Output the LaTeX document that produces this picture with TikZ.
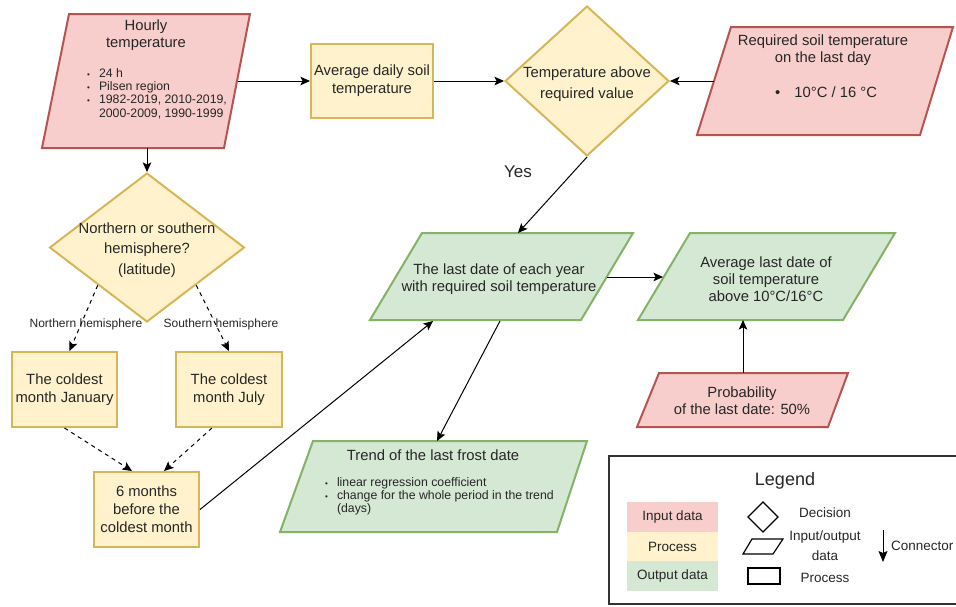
\documentclass[tikz,border=0pt]{standalone}
\usepackage{fontspec}
\setmainfont{Liberation Sans}
\usetikzlibrary{arrows.meta,shapes.geometric,calc}

\definecolor{inFill}{HTML}{F8CECC}
\definecolor{inLine}{HTML}{B85450}
\definecolor{prFill}{HTML}{FFF2CC}
\definecolor{prLine}{HTML}{D6B656}
\definecolor{outFill}{HTML}{D5E8D4}
\definecolor{outLine}{HTML}{82B366}
\definecolor{ink}{HTML}{262626}
\definecolor{frame}{HTML}{333333}

\begin{document}
\begin{tikzpicture}[x=1pt,y=-1pt,
  inshape/.style={fill=inFill,draw=inLine,line width=2pt},
  prshape/.style={fill=prFill,draw=prLine,line width=2pt},
  outshape/.style={fill=outFill,draw=outLine,line width=2pt},
  prbox/.style={prshape,rectangle,inner sep=0pt,text=ink,align=center,
    font=\fontsize{14.8}{18}\selectfont},
  decbox/.style={prshape,diamond,inner sep=0pt},
  txt/.style={text=ink,align=center,inner sep=0pt,font=\fontsize{14.8}{17.2}\selectfont},
  lst/.style={text=ink,align=left,inner sep=0pt,font=\fontsize{12.3}{13.4}\selectfont},
  lbl/.style={text=ink,inner sep=0pt,font=\fontsize{12}{14}\selectfont},
  legtxt/.style={text=ink,inner sep=0pt,align=center,font=\fontsize{13.5}{20}\selectfont},
  flow/.style={draw=black,line width=1pt,-{Stealth[length=9.5pt,width=8.5pt,inset=2pt]}},
  dflow/.style={flow,dash pattern=on 4pt off 4pt},
  legsym/.style={draw=black,line width=1.2pt,fill=white}]

\useasboundingbox (0,0) rectangle (956,606);

% ---------- input data ----------
\draw[inshape] (69,14) -- (250,14) -- (224,148) -- (42,148) -- cycle;
\coordinate (hr-e) at (237.5,81);
\coordinate (hr-s) at (147,148);
\node[txt] (hourly) at (146,35.5) {Hourly\\temperature};
\node[lst,anchor=north west] (hourlylist) at (87,67.5)
  {\begin{tabular}{@{}l@{\hspace{9pt}}l@{}}
   {\fontsize{8}{10}\selectfont\textbullet} & 24 h\\
   {\fontsize{8}{10}\selectfont\textbullet} & Pilsen region\\
   {\fontsize{8}{10}\selectfont\textbullet} & 1982-2019, 2010-2019,\\
   & 2000-2009, 1990-1999
   \end{tabular}};

\draw[inshape] (731,27) -- (953,27) -- (920,135) -- (697,135) -- cycle;
\coordinate (req-w) at (714,81);
\node[txt] (req) at (823,50) {Required soil temperature\\on the last day};
\node[txt,anchor=west] (reqlist) at (775,92) {\textbullet\hspace{14pt}10°C / 16 °C};

\draw[inshape] (659,373) -- (848,373) -- (828,427) -- (637,427) -- cycle;
\coordinate (prob-n) at (743,373);
\node[txt] (prob) at (742,401) {Probability\\of the last date: 50\%};

% ---------- processes ----------
\node[prbox,minimum width=122pt,minimum height=74pt] (avg) at (372,81)
  {Average daily soil\\temperature};
\node[decbox,minimum width=164pt,minimum height=150pt] (dec) at (587,81) {};
\node[txt,font=\fontsize{14.8}{21}\selectfont] (dectext) at (587,84)
  {Temperature above\\required value};

\node[decbox,minimum width=195pt,minimum height=149pt] (hemi) at (147,247.5) {};
\node[txt,font=\fontsize{14.8}{20.5}\selectfont] (hemitext) at (147,250)
  {Northern or southern\\hemisphere?\\(latitude)};

\node[prbox,minimum width=105pt,minimum height=75pt] (jan) at (64.5,389.5)
  {The coldest\\month January};
\node[prbox,minimum width=106pt,minimum height=75pt] (july) at (229,389.5)
  {The coldest\\month July};
\node[prbox,minimum width=105pt,minimum height=75pt] (six) at (146.5,509.5)
  {6 months\\before the\\coldest month};

% ---------- output data ----------
\draw[outshape] (422,233) -- (633,233) -- (581,320) -- (370,320) -- cycle;
\coordinate (last-e) at (607,277);
\coordinate (last-b1) at (433,321);
\coordinate (last-b2) at (500,321);
\coordinate (last-n) at (518,233);
\node[txt] (last) at (499,279) {The last date of each year\\with required soil temperature};

\draw[outshape] (690,233) -- (895,233) -- (843,320) -- (638,320) -- cycle;
\coordinate (al-w) at (663,277);
\coordinate (al-s) at (743,320);
\node[txt] (avglast) at (766,279) {Average last date of\\soil temperature\\above 10°C/16°C};

\draw[outshape] (313,441) -- (587,441) -- (557,532) -- (280,532) -- cycle;
\coordinate (tr-n) at (437,441);
\node[txt] (trend) at (433,455) {Trend of the last frost date};
\node[lst,anchor=north west] (trendlist) at (325,476.5)
  {\begin{tabular}{@{}l@{\hspace{9pt}}l@{}}
   {\fontsize{8}{10}\selectfont\textbullet} & linear regression coefficient\\
   {\fontsize{8}{10}\selectfont\textbullet} & change for the whole period in the trend\\
   & (days)
   \end{tabular}};

% ---------- connectors ----------
\draw[flow] (hr-e) -- (avg.west);
\draw[flow] (avg.east) -- (dec.west);
\draw[flow] (req-w) -- (dec.east);
\draw[flow] (dec.south) -- (last-n);
\node[txt,font=\fontsize{17}{20}\selectfont] (yes) at (518,172) {Yes};
\draw[flow] (hr-s) -- (hemi.north);
\draw[dflow] ($(hemi.west)!0.5!(hemi.south)$) -- ([xshift=5pt]jan.north);
\draw[dflow] ($(hemi.east)!0.5!(hemi.south)$) -- (july.north);
\node[lbl] (north) at (86,324) {Northern hemisphere};
\node[lbl] (south) at (221,324) {Southern hemisphere};
\draw[dflow] (jan.south) -- ([xshift=-14.5pt]six.north);
\draw[dflow] ([xshift=-17pt]july.south) -- ([xshift=17.5pt]six.north);
\draw[flow] (six.east) -- (last-b1);
\draw[flow] (last-e) -- (al-w);
\draw[flow] (last-b2) -- (tr-n);
\draw[flow] (prob-n) -- (al-s);

% ---------- legend ----------
\draw[draw=frame,line width=1.5pt] (609,456) rectangle (970,604);
\node[txt,font=\fontsize{18}{21}\selectfont] (legend) at (785,481) {Legend};
\node[fill=inFill,minimum width=91pt,minimum height=30pt,inner sep=0pt,
  text=ink,font=\fontsize{13.5}{15}\selectfont] (lin) at (672.5,517) {Input data};
\node[fill=prFill,minimum width=91pt,minimum height=29pt,inner sep=0pt,
  text=ink,font=\fontsize{13.5}{15}\selectfont] (lpr) at (672.5,546.5) {Process};
\node[fill=outFill,minimum width=91pt,minimum height=30pt,inner sep=0pt,
  text=ink,font=\fontsize{13.5}{15}\selectfont] (lout) at (672.5,576) {Output data};

\draw[legsym] (763,502) -- (778,517) -- (763,532) -- (748,517) -- cycle;
\draw[legsym] (752,539) -- (783,539) -- (773,554) -- (743,554) -- cycle;
\draw[legsym] (748,568) rectangle (780,584);
\node[legtxt] (ldec) at (825,513) {Decision};
\node[legtxt] (lio) at (825,546) {Input/output\\data};
\node[legtxt] (lproc) at (825,578) {Process};
\coordinate (con-a) at (883,530);
\coordinate (con-b) at (883,562);
\draw[flow,-{Stealth[length=11pt,width=9pt,inset=2pt]}] (con-a) -- (con-b);
\node[legtxt,anchor=west] (lcon) at (891,546) {Connector};
\end{tikzpicture}
\end{document}
